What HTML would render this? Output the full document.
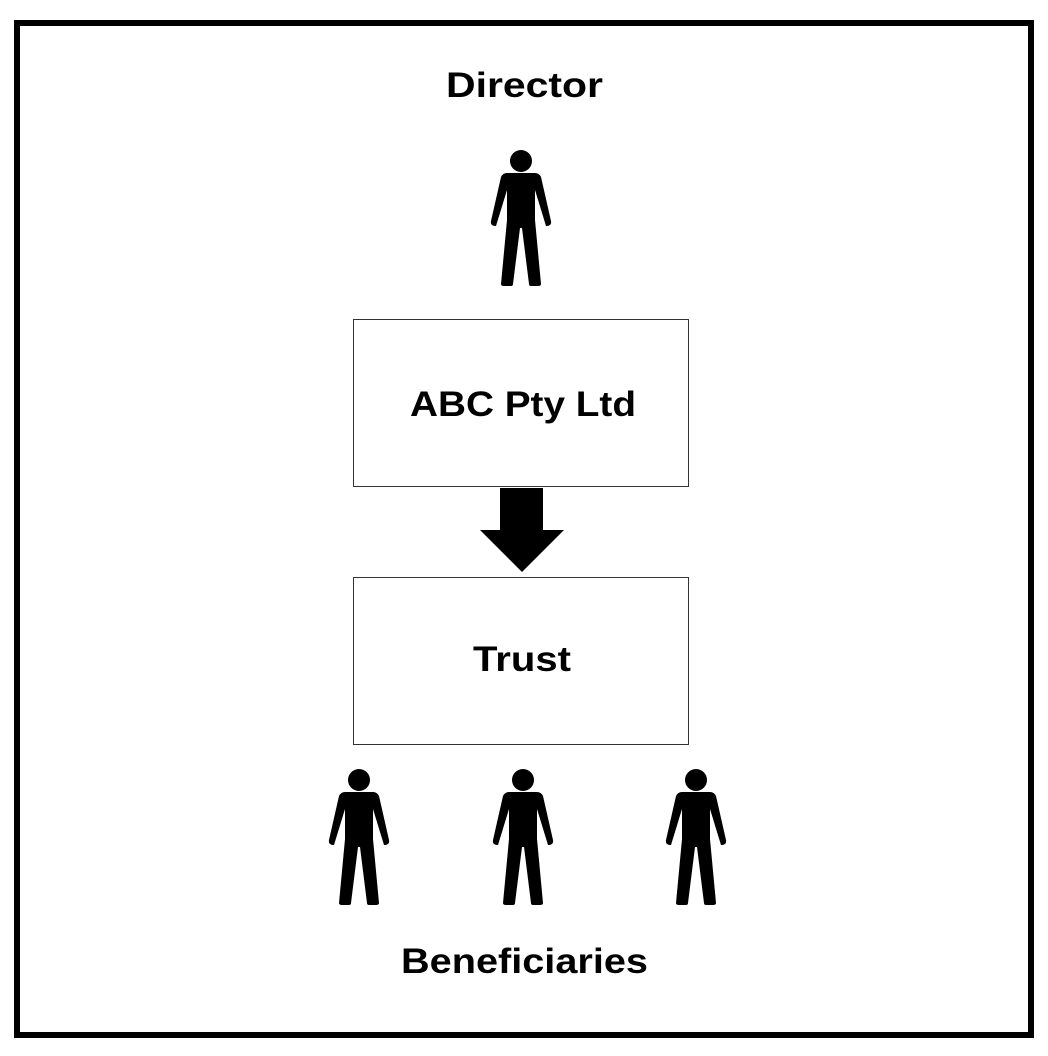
<!DOCTYPE html>
<html><head><style>
html,body{margin:0;padding:0;background:#fff}
body{width:1048px;height:1056px;position:relative;overflow:hidden;font-family:"Liberation Sans",sans-serif}
</style></head><body>
<svg width="1048" height="1056" style="position:absolute;left:0;top:0">
<defs>
<g id="p">
<circle cx="0" cy="11" r="11"/>
<path d="M-20,27 L-30,71 Q-31,76 -25,76 L-14,40 L-14,70 L-20,134 Q-20,136 -17,136 L-10,136 Q-8,136 -8,134 L-1,78 L1,78 L8,134 Q8,136 10,136 L17,136 Q20,136 20,134 L14,70 L14,40 L25,76 Q31,76 30,71 L20,27 Q18,23 14,23 L-14,23 Q-18,23 -20,27Z"/>
</g>
</defs>
<rect x="17" y="23" width="1014" height="1012" fill="none" stroke="#000" stroke-width="6"/>
<use href="#p" x="521" y="150"/>
<use href="#p" x="359" y="769"/>
<use href="#p" x="523" y="769"/>
<use href="#p" x="696" y="769"/>
<rect x="353.5" y="319.5" width="335" height="167" fill="#fff" stroke="#333" stroke-width="1"/>
<rect x="353.5" y="577.5" width="335" height="167" fill="#fff" stroke="#333" stroke-width="1"/>
<polygon points="500,488 543,488 543,530 564,530 522,572 480,530 500,530"/>
<g font-family="Liberation Sans, sans-serif" font-weight="bold" font-size="35" fill="#000" lengthAdjust="spacingAndGlyphs">
<text x="446" y="97" textLength="157" lengthAdjust="spacingAndGlyphs">Director</text>
<text x="410" y="416" textLength="226" lengthAdjust="spacingAndGlyphs">ABC Pty Ltd</text>
<text x="473" y="671" textLength="98" lengthAdjust="spacingAndGlyphs">Trust</text>
<text x="401" y="973" textLength="247" lengthAdjust="spacingAndGlyphs">Beneficiaries</text>
</g>
</svg>
</body></html>
